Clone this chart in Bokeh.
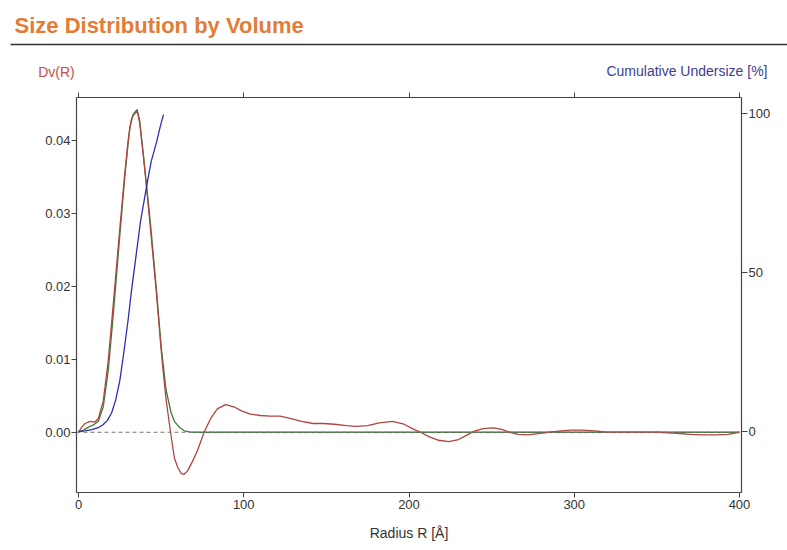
from bokeh.plotting import figure
from bokeh.models import (Range1d, LinearAxis, FixedTicker, Span,
                          CustomJSTickFormatter, NumeralTickFormatter)
from bokeh.layouts import column
from bokeh.embed import file_html
from bokeh.resources import INLINE
from bokeh.core.properties import value

# ---------------- data ----------------
TITLE = "Size Distribution by Volume"
LEFT_LABEL = "Dv(R)"
RIGHT_LABEL = "Cumulative Undersize [%]"
X_LABEL = "Radius R [Å]"

x_ticks = [0, 100, 200, 300, 400]
dv_ticks = [0.0, 0.01, 0.02, 0.03, 0.04]
pct_ticks = [0, 50, 100]

# Dv(R) distribution (red)
r_radius = [0, 2, 4, 7, 10, 12, 15, 18, 21, 25.4, 28, 30, 32, 33.5, 35.5, 37, 39, 41,
            43.6, 47, 50.6, 53, 55.7, 58, 60, 62, 63.7, 66, 69, 72, 76, 80, 84, 89, 94,
            99, 104, 110, 116, 122, 128, 135, 142, 148, 155, 162, 168, 175, 182, 190,
            197, 203, 207, 212, 218, 224, 230, 235, 240, 245, 251, 256, 261, 266, 272,
            278, 285, 292, 298, 305, 312, 320, 330, 340, 350, 360, 370, 378, 385, 393, 400]
r_dv = [0.0, 0.0007, 0.0012, 0.0015, 0.0014, 0.0019, 0.0043, 0.0098, 0.0175, 0.029,
        0.0355, 0.0400, 0.0430, 0.0436, 0.0441, 0.0425, 0.0385, 0.0340, 0.0278, 0.0195,
        0.0098, 0.0045, 0.0, -0.0035, -0.0048, -0.0056, -0.0058, -0.0053, -0.0040,
        -0.0025, 0.0, 0.0019, 0.0032, 0.0038, 0.0035, 0.0029, 0.0025, 0.0023, 0.0022,
        0.0022, 0.0019, 0.0015, 0.0012, 0.0012, 0.0011, 0.0009, 0.0008, 0.0009, 0.0013,
        0.0015, 0.0011, 0.0004, 0.0, -0.0006, -0.0011, -0.0013, -0.0010, -0.0004,
        0.0002, 0.0005, 0.0006, 0.0004, 0.0, -0.0003, -0.00036, -0.0002, 0.0, 0.0002,
        0.0003, 0.0003, 0.0002, 0.0, 0.0, 0.0, 0.0, -0.0001, -0.0003, -0.00036,
        -0.00037, -0.0003, 0.0]

# fitted distribution (green)
g_radius = [0, 3, 6, 9, 12, 15, 18, 21, 25, 28, 31, 33, 35.5, 37, 40, 43.6, 47, 50, 53,
            56, 58, 61, 64, 67, 70, 400]
g_dv = [0.0, 0.0003, 0.0007, 0.0010, 0.0015, 0.0035, 0.0085, 0.016, 0.027, 0.035,
        0.0418, 0.0436, 0.0443, 0.0428, 0.0365, 0.0285, 0.0200, 0.0118, 0.0058, 0.0027,
        0.0015, 0.0007, 0.0002, 0.00005, 0.0, 0.0]

# cumulative undersize (blue, right axis, %)
b_radius = [0, 4, 8, 12, 15, 17.5, 20, 22.4, 25, 27.2, 30, 32, 34.5, 37.5, 41.5, 44,
            47.2, 49.5, 51.4]
b_pct = [0, 0.2, 0.6, 1.2, 2.2, 3.5, 5.8, 9.7, 16, 24, 35, 44, 54, 66, 78, 85, 91, 96,
         99.7]

# ---------------- styling ----------------
FONT = "Liberation Sans"
ORANGE = "#E27C36"
RED = "#B0443F"
GREEN = "#3F7A3A"
BLUE = "#2E2EB0"
AXIS = "#444444"
TXT = "#333333"

HEADER_H = 82

# header: title, rule and the two axis captions (pixel-mapped ranges)
header = figure(width=787, height=HEADER_H, x_range=Range1d(0, 787),
                y_range=Range1d(HEADER_H, 0), output_backend="svg",
                toolbar_location=None, min_border=0,
                x_axis_location=None, y_axis_location=None)
header.frame_align = False
header.grid.visible = False
header.outline_line_color = None
header.text(x=[14], y=[25], text=[TITLE], text_font=value(FONT), text_font_size="22px",
            text_font_style="bold", text_color=ORANGE, text_baseline="middle",
            text_align="left")
header.segment(x0=[10], y0=[44], x1=[787], y1=[44], line_color="#333333", line_width=1.5)
header.text(x=[56], y=[71], text=[LEFT_LABEL], text_font=value(FONT),
            text_font_size="14px", text_color="#C0504D", text_baseline="middle",
            text_align="center")
header.text(x=[767], y=[70], text=[RIGHT_LABEL], text_font=value(FONT),
            text_font_size="14px", text_color="#40408F", text_baseline="middle",
            text_align="right")

# main plot
p = figure(width=787, height=550 - HEADER_H, x_range=Range1d(-1.21, 401.21),
           y_range=Range1d(-0.00827, 0.04595), output_backend="svg",
           toolbar_location=None, min_border_left=76, min_border_right=46,
           min_border_top=97 - HEADER_H, min_border_bottom=58,
           x_axis_location=None, y_axis_location=None)
p.frame_align = False
p.grid.visible = False
p.outline_line_color = None
p.extra_y_ranges = {"pct": Range1d(-19.2, 105.1)}


def style(ax, out=5, standoff=2):
    ax.axis_line_color = AXIS
    ax.axis_line_width = 1.2
    ax.major_tick_line_color = AXIS
    ax.major_tick_out = out
    ax.major_tick_in = 0
    ax.minor_tick_line_color = None
    ax.major_label_text_font = FONT
    ax.major_label_text_font_size = "13px"
    ax.major_label_text_color = TXT
    ax.major_label_standoff = standoff


bottom = LinearAxis(ticker=FixedTicker(ticks=x_ticks), axis_label=X_LABEL)
style(bottom, 5, 2)
bottom.axis_label_text_font = FONT
bottom.axis_label_text_font_size = "14px"
bottom.axis_label_text_font_style = "normal"
bottom.axis_label_text_color = TXT
bottom.axis_label_standoff = 13
p.add_layout(bottom, "below")

top = LinearAxis(ticker=FixedTicker(ticks=x_ticks),
                 formatter=CustomJSTickFormatter(code="return ''"))
style(top, 5, 0)
top.major_label_text_font_size = "0px"
p.add_layout(top, "above")

left = LinearAxis(ticker=FixedTicker(ticks=dv_ticks),
                  formatter=NumeralTickFormatter(format="0.00"))
style(left, 5, 1)
p.add_layout(left, "left")

right = LinearAxis(y_range_name="pct", ticker=FixedTicker(ticks=pct_ticks))
style(right, 6, 1)
p.add_layout(right, "right")

p.add_layout(Span(location=0, dimension="width", line_color="#777777",
                  line_dash="4 3", line_width=1))

p.line(g_radius, g_dv, line_color=GREEN, line_width=1.3)
p.line(r_radius, r_dv, line_color=RED, line_width=1.3)
p.line(b_radius, b_pct, line_color=BLUE, line_width=1.3, y_range_name="pct")

layout = column(header, p, spacing=0)
open("out.html", "w").write(file_html(layout, INLINE))
